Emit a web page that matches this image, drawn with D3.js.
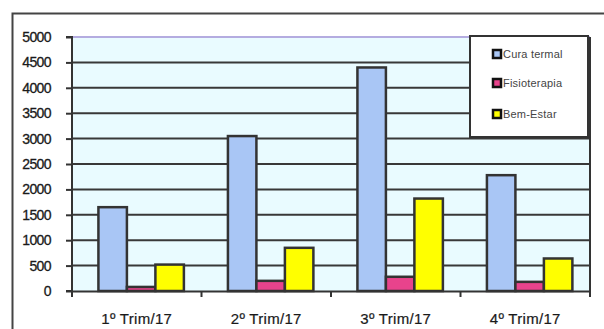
<!DOCTYPE html>
<html><head><meta charset="utf-8">
<script src="https://cdn.jsdelivr.net/npm/d3@7"></script>
<style>body{margin:0;background:#fff}svg{display:block}</style>
</head><body>
<svg id="c" width="604" height="329"></svg>
<script>
const categories = ["1º Trim/17","2º Trim/17","3º Trim/17","4º Trim/17"];
const seriesNames = ["Cura termal","Fisioterapia","Bem-Estar"];
const curaTermal = [1650, 3050, 4400, 2280];
const fisioterapia = [80, 200, 280, 180];
const bemEstar = [520, 850, 1820, 640];
const yTicks = [0,500,1000,1500,2000,2500,3000,3500,4000,4500,5000];
const colors = ["#a9c6f5","#e8438c","#ffff00"];
const values = [curaTermal, fisioterapia, bemEstar];

const svg = d3.select("#c");
const L=72, R=590, T=37, B=291;
// outer frame
svg.append("path").attr("d","M12.5,329 V13.5 H604").attr("fill","none").attr("stroke","#444").attr("stroke-width",2);
svg.append("rect").attr("x",L).attr("y",T).attr("width",R-L).attr("height",B-T).attr("fill","#e9fbff");

const y = d3.scaleLinear().domain([0,5000]).range([B,T]);
const x0 = d3.scaleBand().domain(categories).range([L,R]).paddingInner(0.34).paddingOuter(0.17).align(0.6);
const x1 = d3.scaleBand().domain(seriesNames).range([0,x0.bandwidth()]);

// gridlines
svg.append("g").selectAll("line").data(yTicks.filter(d=>d>0)).join("line")
  .attr("x1",L).attr("x2",R).attr("y1",d=>y(d)).attr("y2",d=>y(d))
  .attr("stroke",d=>d===5000?"#b4ace0":"#383838").attr("stroke-width",2);

// y axis
const ya = svg.append("g").attr("transform",`translate(${L},0)`)
  .call(d3.axisLeft(y).tickValues(yTicks).tickSize(6).tickPadding(15).tickFormat(d3.format("d")));
ya.select(".domain").attr("stroke","#333").attr("stroke-width",2).attr("d",`M-6,${B}H0V${T}H-6`);
ya.selectAll(".tick line").attr("stroke","#333").attr("stroke-width",2);
ya.selectAll(".tick text").attr("fill","#1a1a1a").style("font-family","Liberation Sans, Arial, sans-serif").style("font-size","14px").style("letter-spacing","-0.6px").attr("stroke","#1a1a1a").attr("stroke-width",0.3);

// bars
const g = svg.append("g");
categories.forEach((c,i)=>{
  seriesNames.forEach((s,j)=>{
    const v = values[j][i];
    g.append("rect").attr("x",x0(c)+x1(s)).attr("y",y(v)).attr("width",x1.bandwidth()).attr("height",B-y(v))
      .attr("fill",colors[j]).attr("stroke","#333").attr("stroke-width",2.5);
  });
});

// x axis
const xa = svg.append("g").attr("transform",`translate(0,${B})`)
  .call(d3.axisBottom(d3.scaleBand().domain(categories).range([L,R])).tickSize(0).tickPadding(22));
xa.select(".domain").attr("stroke","#333").attr("stroke-width",2);
xa.selectAll(".tick text").attr("fill","#1a1a1a").style("font-family","Liberation Sans, Arial, sans-serif").style("font-size","15px").style("letter-spacing","0.3px").attr("stroke","#1a1a1a").attr("stroke-width",0.2);
const bounds = d3.range(5).map(k=>L + k*(R-L)/4);
svg.append("g").selectAll("line").data(bounds).join("line")
  .attr("x1",d=>d).attr("x2",d=>d).attr("y1",B).attr("y2",B+6).attr("stroke","#333").attr("stroke-width",2);
// right plot border
svg.append("line").attr("x1",R).attr("x2",R).attr("y1",T).attr("y2",B+6).attr("stroke","#333").attr("stroke-width",2);

// legend
const lg = svg.append("g").attr("transform","translate(470,36)");
lg.append("rect").attr("x",0).attr("y",0).attr("width",118).attr("height",101).attr("fill","#fff").attr("stroke","#333").attr("stroke-width",2);
const ly = [18, 47, 78];
seriesNames.forEach((s,j)=>{
  const r = lg.append("g").attr("transform",`translate(0,${ly[j]})`);
  r.append("rect").attr("x",23).attr("y",-4).attr("width",8).attr("height",8).attr("fill",colors[j]).attr("stroke","#111").attr("stroke-width",2.5);
  r.append("text").attr("x",33).attr("y",4).text(s).attr("fill","#444")
    .style("font-family","Liberation Sans, Arial, sans-serif").style("font-size","11px").style("letter-spacing","0.2px");
});
</script>
</body></html>
